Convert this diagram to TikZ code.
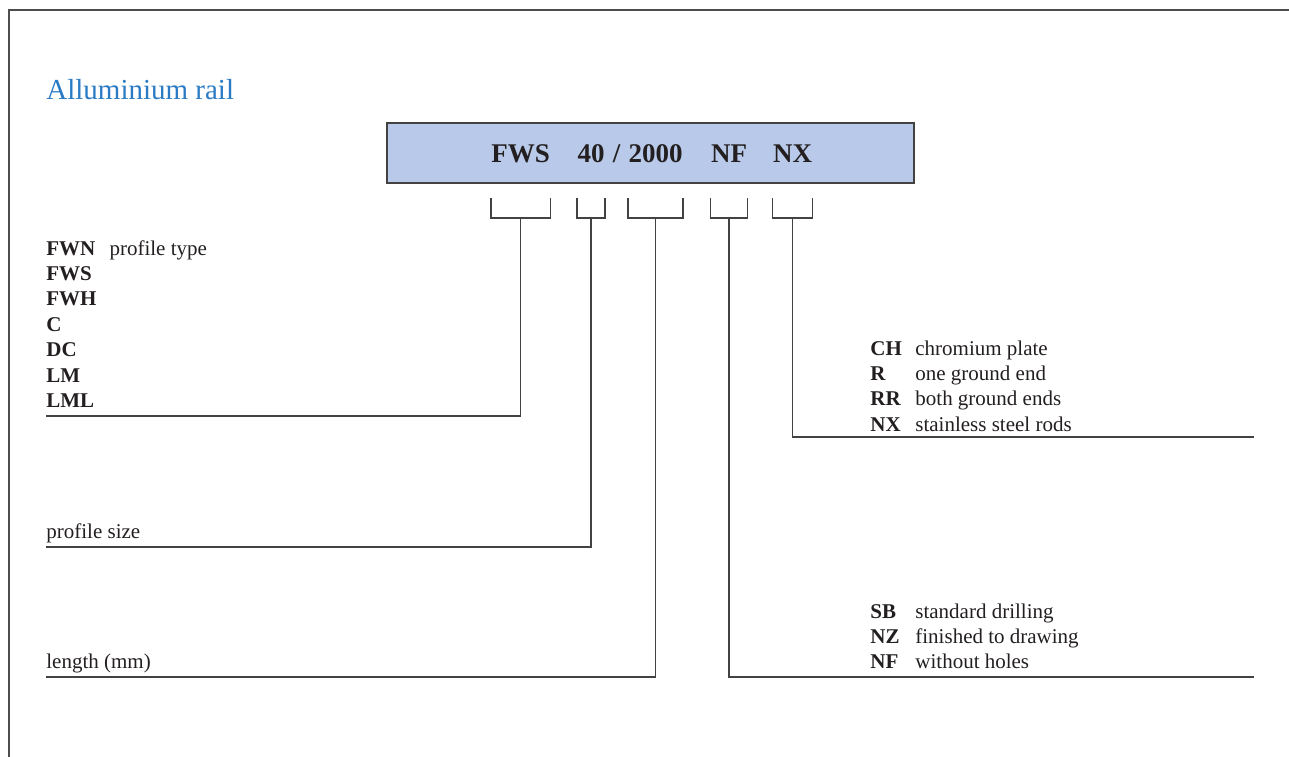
\documentclass[tikz,border=0pt]{standalone}
\usepackage{fontspec}
\setmainfont{Liberation Serif}
\usepackage{xcolor}
\usepackage{tikz}
\usetikzlibrary{positioning,calc}
\definecolor{railblue}{HTML}{2B7BC4}
\definecolor{codefill}{HTML}{B8C9E9}
\definecolor{ink}{HTML}{231F20}
\tikzset{
  codebar/.style  = {rectangle, draw=ink!85, line width=0.75pt, fill=codefill,
                     minimum width=263.5pt, minimum height=30pt, inner sep=0pt},
  codepart/.style = {inner sep=0pt, anchor=base, text=ink,
                     font=\fontsize{13.5}{16}\selectfont\bfseries},
  legend/.style   = {inner sep=0pt, anchor=base west, text=ink,
                     font=\fontsize{10.5}{12.7}\selectfont, align=left},
  heading/.style  = {inner sep=0pt, anchor=base west, text=railblue,
                     font=\fontsize{14.5}{17}\selectfont},
  brk/.style      = {draw=ink!85, line width=0.65pt},
  lead/.style     = {draw=ink!85, line width=0.7pt},
  frame/.style    = {draw=ink!80, line width=1pt},
}

\begin{document}
\begin{tikzpicture}[x=0.5pt, y=-0.5pt]
  \useasboundingbox (0,0) rectangle (1289,756);
  \draw[frame] (8.5,780) |- (1300,10);

  \node[heading] (title) at (46,99) {Alluminium rail};

  % ordering code
  \node[codebar] (bar) at (650.5,153) {};
  \node[codepart] (fws)   at (520.5,162) {FWS};
  \node[codepart] (size)  at (591,162)   {40};
  \node[codepart] (slash) at (616.5,162) {/};
  \node[codepart] (len)   at (655.5,162) {2000};
  \node[codepart] (drill) at (729,162)   {NF};
  \node[codepart] (rod)   at (792.5,162) {NX};

  \foreach \p in {fws,size,len,drill,rod}
    \draw[brk] (\p.west |- 0,198) |- (\p.east |- 0,218) -- (\p.east |- 0,198);

  % legends
  \node[legend] (types) at (46,255) {\begin{tabular}[t]{@{}l@{\hspace{6.5pt}}l@{}}
    \textbf{FWN} & profile type\\
    \textbf{FWS} & \\
    \textbf{FWH} & \\
    \textbf{C}   & \\
    \textbf{DC}  & \\
    \textbf{LM}  & \\
    \textbf{LML} & \\
  \end{tabular}};
  \node[legend] (sizelbl) at (46,538) {profile size};
  \node[legend] (lenlbl)  at (46,668) {length (mm)};
  \node[legend] (rods) at (870,355) {\begin{tabular}[t]{@{}p{22.5pt}@{}l@{}}
    \textbf{CH} & chromium plate\\
    \textbf{R}  & one ground end\\
    \textbf{RR} & both ground ends\\
    \textbf{NX} & stainless steel rods\\
  \end{tabular}};
  \node[legend] (holes) at (870,618) {\begin{tabular}[t]{@{}p{22.5pt}@{}l@{}}
    \textbf{SB} & standard drilling\\
    \textbf{NZ} & finished to drawing\\
    \textbf{NF} & without holes\\
  \end{tabular}};

  % leader lines
  \coordinate (typesEnd) at (46,416);
  \coordinate (sizeEnd)  at (46,547);
  \coordinate (lenEnd)   at (46,677);
  \coordinate (holesEnd) at (1254,677);
  \coordinate (rodsEnd)  at (1254,437);
  \draw[lead] (fws |- 0,218)   |- (typesEnd);
  \draw[lead] (size |- 0,218)  |- (sizeEnd);
  \draw[lead] (len |- 0,218)   |- (lenEnd);
  \draw[lead] (drill |- 0,218) |- (holesEnd);
  \draw[lead] (rod |- 0,218)   |- (rodsEnd);
\end{tikzpicture}
\end{document}
